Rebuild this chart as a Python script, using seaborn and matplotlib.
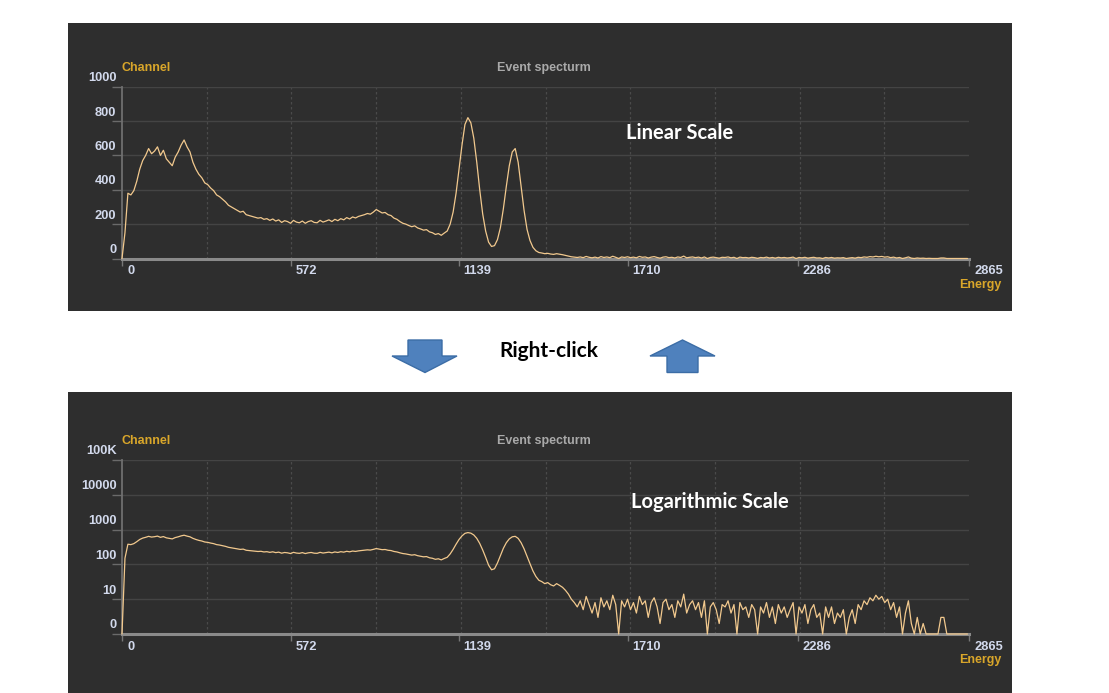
import numpy as np
import pandas as pd
import matplotlib
matplotlib.use("Agg")
import matplotlib.pyplot as plt
import seaborn as sns
from matplotlib.patches import Rectangle, Polygon
from matplotlib.transforms import ScaledTranslation
from matplotlib.ticker import NullLocator

# ---------------- data ----------------
energy = list(range(0, 2870, 10))  # channel energy, step 10

counts = [
    0, 150, 380, 370, 395, 450, 520, 570, 600, 640, 610, 625, 650, 600, 630, 580, 560, 540, 590, 620,
    660, 690, 650, 620, 560, 520, 490, 470, 440, 430, 410, 395, 370, 360, 345, 330, 310, 300, 290, 280,
    270, 275, 255, 250, 245, 240, 235, 238, 228, 232, 222, 230, 218, 225, 210, 220, 215, 205, 222, 212,
    208, 218, 205, 215, 220, 210, 208, 222, 212, 218, 225, 215, 228, 220, 232, 225, 238, 230, 242, 236,
    245, 250, 255, 262, 258, 270, 285, 275, 265, 268, 255, 250, 235, 228, 215, 205, 200, 192, 185, 190,
    178, 172, 165, 168, 155, 150, 140, 145, 135, 148, 160, 200, 270, 380, 520, 660, 780, 820, 790, 700,
    560, 400, 260, 160, 95, 70, 75, 110, 180, 290, 420, 540, 620, 640, 560, 420, 280, 170, 105, 65,
    45, 35, 32, 28, 30, 26, 24, 28, 25, 22, 18, 14, 10, 8, 6, 9, 5, 12, 7, 4,
    8, 3, 11, 6, 9, 5, 13, 7, 0, 9, 6, 10, 5, 8, 4, 12, 7, 9, 3, 8,
    11, 6, 2, 8, 10, 5, 7, 3, 9, 6, 14, 4, 7, 9, 5, 8, 3, 9, 0, 6,
    8, 5, 2, 7, 6, 9, 4, 7, 0, 8, 5, 6, 3, 7, 5, 1, 6, 4, 8, 3,
    6, 2, 7, 4, 6, 3, 5, 8, 0, 6, 4, 7, 2, 5, 7, 3, 4, 0, 6, 3,
    6, 2, 4, 3, 5, 0, 3, 5, 2, 7, 5, 9, 7, 11, 9, 13, 10, 12, 8, 10,
    5, 8, 3, 6, 0, 4, 9, 2, 0, 3, 1, 2, 0, 1, 0, 0, 0, 3, 3, 0,
    0, 0, 0, 0, 0, 0, 0,
]

x_tick_values = [0, 572, 1139, 1710, 2286, 2865]
x_tick_labels = ["0", "572", "1139", "1710", "2286", "2865"]
lin_tick_values = [0, 200, 400, 600, 800, 1000]
lin_tick_labels = ["0", "200", "400", "600", "800", "1000"]
log_tick_values = [1, 10, 100, 1000, 10000, 100000]
log_tick_labels = ["0", "10", "100", "1000", "10000", "100K"]

df = pd.DataFrame({"energy": energy, "counts": counts})
df["counts_log"] = df["counts"].clip(lower=1)

# ---------------- figure ----------------
sns.set_style("dark")
W, H = 1109, 693
fig = plt.figure(figsize=(W / 100, H / 100), dpi=100)
fig.patch.set_facecolor("white")


def fx(px):
    return px / W


def fy(py):
    return 1 - py / H


PANEL = "#2e2e2e"
LINE = "#f2c98e"
TICKC = "#d2d9ec"
GOLD = "#d9a62a"
FONT = "Liberation Sans"

for (y0, y1) in [(23, 311), (392, 693)]:
    fig.patches.append(Rectangle((fx(68), fy(y1)), fx(1012) - fx(68), fy(y0) - fy(y1),
                                 transform=fig.transFigure, facecolor=PANEL,
                                 edgecolor="none", zorder=-1))

ax1 = fig.add_axes([fx(122), fy(258.5), fx(969) - fx(122), fy(86.7) - fy(258.5)])
ax2 = fig.add_axes([fx(122), fy(634), fx(969) - fx(122), fy(460) - fy(634)])

grid_x = np.linspace(0, 2865, 11)


def style(ax, yvals, ylabels, log=False):
    ax.set_facecolor("none")
    if log:
        ax.set_yscale("log")
        ax.set_ylim(1, 100000)
    else:
        ax.set_ylim(0, 1000)
    ax.set_xlim(0, 2865)
    ax.set_xticks(x_tick_values, x_tick_labels)
    ax.set_xticks(grid_x, minor=True)
    ax.set_yticks(yvals, ylabels)
    ax.yaxis.set_minor_locator(NullLocator())
    ax.grid(False)
    ax.grid(axis="y", which="major", color="#444444", lw=1.0, ls="-")
    ax.grid(axis="x", which="minor", color="#4a4a4a", lw=0.9, ls=(0, (2, 2)))
    ax.set_axisbelow(True)
    for s in ["top", "right"]:
        ax.spines[s].set_visible(False)
    ax.spines["left"].set_color("#6f6f6f")
    ax.spines["left"].set_linewidth(1.3)
    ax.spines["bottom"].set_color("#8a8a8a")
    ax.spines["bottom"].set_linewidth(2.2)
    ax.tick_params(axis="x", which="major", length=5, width=1, color="#777777", pad=0,
                   labelsize=9.3, labelcolor=TICKC, bottom=True)
    ax.tick_params(axis="x", which="minor", length=0, bottom=False)
    ax.tick_params(axis="y", which="major", length=7, width=1, color="#6a6a6a", pad=-3,
                   labelsize=9.3, labelcolor=TICKC, left=True)
    up = ScaledTranslation(0, 10 / 100, fig.dpi_scale_trans)
    right = ScaledTranslation(5 / 100, 0, fig.dpi_scale_trans)
    for lab in ax.get_yticklabels():
        lab.set_fontweight("bold")
        lab.set_family(FONT)
        lab.set_transform(lab.get_transform() + up)
    for lab in ax.get_xticklabels():
        lab.set_fontweight("bold")
        lab.set_family(FONT)
        lab.set_horizontalalignment("left")
        lab.set_transform(lab.get_transform() + right)
    ax.set_xlabel("")
    ax.set_ylabel("")


style(ax1, lin_tick_values, lin_tick_labels, log=False)
style(ax2, log_tick_values, log_tick_labels, log=True)

sns.lineplot(data=df, x="energy", y="counts", ax=ax1, color=LINE, linewidth=0.9,
             zorder=3, clip_on=False)
sns.lineplot(data=df, x="energy", y="counts_log", ax=ax2, color=LINE, linewidth=0.9,
             zorder=3, clip_on=False)
for ax in (ax1, ax2):
    ax.set_xlabel("")
    ax.set_ylabel("")

# ---------------- panel texts ----------------
for (ych, yen) in [(68, 285), (441, 660)]:
    fig.text(fx(122), fy(ych), "Channel", color=GOLD, fontsize=9, fontweight="bold",
             family=FONT, ha="left", va="center")
    fig.text(fx(544), fy(ych), "Event specturm", color="#a9a9a9", fontsize=9,
             fontweight="bold", family=FONT, ha="center", va="center")
    fig.text(fx(1001), fy(yen), "Energy", color=GOLD, fontsize=9, fontweight="bold",
             family=FONT, ha="right", va="center")

fig.text(fx(680), fy(133), "Linear Scale", color="white", fontsize=14.5, fontweight="bold",
         family="Lato", ha="center", va="center")
fig.text(fx(710), fy(502), "Logarithmic Scale", color="white", fontsize=14.5,
         fontweight="bold", family="Lato", ha="center", va="center")
fig.text(fx(549), fy(351), "Right-click", color="black", fontsize=15, fontweight="bold",
         family="Lato", ha="center", va="center")

# ---------------- arrows ----------------
down = [(408, 340), (442, 340), (442, 356), (457, 356), (425, 372.5), (392, 356), (408, 356)]
upa = [(682.5, 340), (715, 356), (698, 356), (698, 372.5), (667, 372.5), (667, 356), (650, 356)]
for pts in (down, upa):
    fig.patches.append(Polygon([(fx(a), fy(b)) for a, b in pts], closed=True,
                               transform=fig.transFigure, facecolor="#4f81bd",
                               edgecolor="#3c6da6", lw=1.0, zorder=1))

fig.savefig("out.png", dpi=100, facecolor="white")
